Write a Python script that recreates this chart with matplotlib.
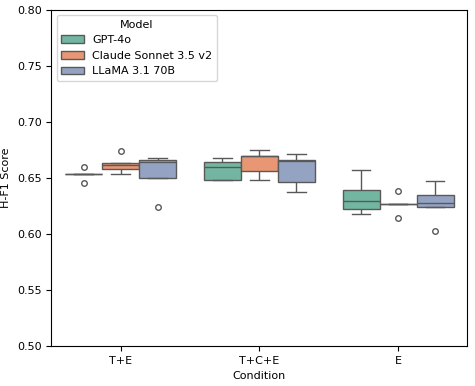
import matplotlib
matplotlib.use('Agg')
import matplotlib.pyplot as plt
import seaborn as sns
import pandas as pd

conditions = ['T+E', 'T+C+E', 'E']
models = ['GPT-4o', 'Claude Sonnet 3.5 v2', 'LLaMA 3.1 70B']

# H-F1 scores per run
gpt4o = {
    'T+E':   [0.645, 0.653, 0.653, 0.653, 0.660],
    'T+C+E': [0.648, 0.648, 0.6595, 0.6643, 0.668],
    'E':     [0.6181, 0.6223, 0.6297, 0.639, 0.6565],
}
claude = {
    'T+E':   [0.653, 0.658, 0.661, 0.663, 0.674],
    'T+C+E': [0.648, 0.6557, 0.669, 0.6696, 0.6744],
    'E':     [0.6143, 0.6265, 0.6265, 0.6265, 0.6378],
}
llama = {
    'T+E':   [0.6235, 0.650, 0.664, 0.6655, 0.668],
    'T+C+E': [0.6372, 0.6461, 0.665, 0.6655, 0.671],
    'E':     [0.6024, 0.624, 0.6277, 0.635, 0.647],
}

rows = []
for name, d in zip(models, [gpt4o, claude, llama]):
    for c in conditions:
        for v in d[c]:
            rows.append({'Condition': c, 'Model': name, 'H-F1 Score': v})
df = pd.DataFrame(rows)

plt.rcParams['font.size'] = 8
plt.rcParams['axes.linewidth'] = 0.8

fig, ax = plt.subplots(figsize=(4.75, 3.86), dpi=100)
sns.boxplot(data=df, x='Condition', y='H-F1 Score', hue='Model',
            order=conditions, hue_order=models, palette='Set2',
            fliersize=4, linewidth=1.0, ax=ax)
ax.set_ylim(0.5, 0.8)
ax.tick_params(labelsize=8)
ax.set_xlabel('Condition', fontsize=8)
ax.set_ylabel('H-F1 Score', fontsize=8)
ax.legend(title='Model', loc='upper left', fontsize=8, title_fontsize=8)
plt.subplots_adjust(left=0.108, right=0.984, top=0.975, bottom=0.104)
plt.savefig('out.png')
